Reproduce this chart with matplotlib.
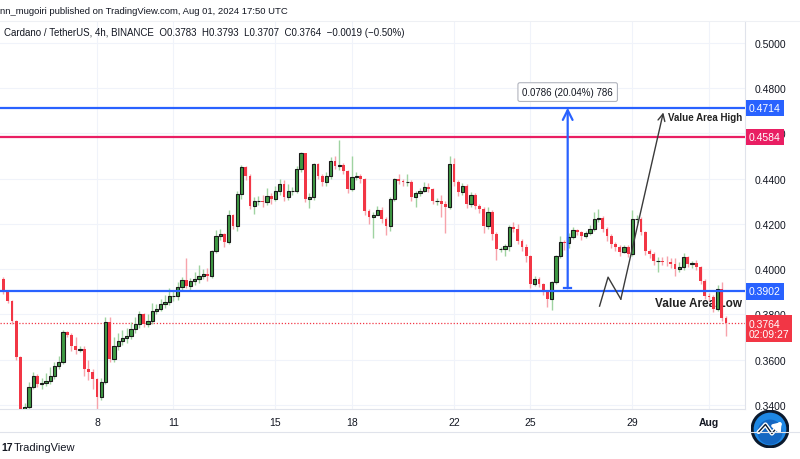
import matplotlib
matplotlib.use('Agg')
import matplotlib.pyplot as plt
import matplotlib.transforms as mtransforms
from matplotlib.patches import Circle
import numpy as np
import pandas as pd

plt.rcParams['font.family'] = ['Liberation Sans', 'DejaVu Sans']

# 4h ADA/USDT candles
first_open = 0.3956
closes = [
    0.3898, 0.3859, 0.3770, 0.3611, 0.3382, 0.3392,
    0.3479, 0.3528, 0.3492, 0.3497, 0.3506, 0.3528, 0.3572, 0.3589, 0.3722, 0.3709,
    0.3660, 0.3645, 0.3648, 0.3559, 0.3545, 0.3514, 0.3435, 0.3501, 0.3766, 0.3603,
    0.3660, 0.3682, 0.3695, 0.3704, 0.3735, 0.3757, 0.3801, 0.3757, 0.3770, 0.3815,
    0.3823, 0.3845, 0.3854, 0.3881, 0.3882, 0.3921, 0.3951, 0.3925, 0.3947, 0.3956,
    0.3969, 0.3978, 0.3969, 0.4079, 0.4146, 0.4155, 0.4119, 0.4238, 0.4190, 0.4331,
    0.4450, 0.4411, 0.4278, 0.4300, 0.4301, 0.4296, 0.4322, 0.4309, 0.4344, 0.4375,
    0.4318, 0.4344, 0.4345, 0.4442, 0.4512, 0.4309, 0.4318, 0.4464, 0.4411, 0.4384,
    0.4411, 0.4477, 0.4455, 0.4459, 0.4433, 0.4353, 0.4406, 0.4411, 0.4397, 0.4256,
    0.4230, 0.4240, 0.4262, 0.4221, 0.4190, 0.4309, 0.4397, 0.4389, 0.4384, 0.4385,
    0.4318, 0.4336, 0.4344, 0.4362, 0.4353, 0.4300, 0.4301, 0.4287, 0.4274, 0.4464,
    0.4384, 0.4340, 0.4366, 0.4287, 0.4327, 0.4278, 0.4265, 0.4190, 0.4252, 0.4155,
    0.4088, 0.4089, 0.4102, 0.4185, 0.4177, 0.4124, 0.4097, 0.4057, 0.3934, 0.3956,
    0.3934, 0.3898, 0.3868, 0.3943, 0.4057, 0.4119, 0.4115, 0.4141, 0.4172, 0.4163,
    0.4146, 0.4159, 0.4177, 0.4221, 0.4225, 0.4177, 0.4146, 0.4110, 0.4097, 0.4075,
    0.4097, 0.4066, 0.4221, 0.4222, 0.4163, 0.4079, 0.4066, 0.4035, 0.4036, 0.4034,
    0.4031, 0.4022, 0.4000, 0.4009, 0.4053, 0.4022, 0.4026, 0.4009, 0.3947, 0.3881,
    0.3876, 0.3823, 0.3912, 0.3783, 0.3764]
highs = [
    0.3965, 0.3905, 0.3866, 0.3775, 0.3615, 0.3410,
    0.3500, 0.3545, 0.3535, 0.3520, 0.3540, 0.3570, 0.3590, 0.3615, 0.3730, 0.3728,
    0.3718, 0.3700, 0.3660, 0.3660, 0.3600, 0.3560, 0.3520, 0.3520, 0.3790, 0.3790,
    0.3700, 0.3720, 0.3730, 0.3740, 0.3765, 0.3790, 0.3815, 0.3805, 0.3800, 0.3850,
    0.3845, 0.3870, 0.3885, 0.3915, 0.3905, 0.3945, 0.3965, 0.4050, 0.3960, 0.3990,
    0.4020, 0.4000, 0.4005, 0.4085, 0.4175, 0.4180, 0.4160, 0.4260, 0.4245, 0.4345,
    0.4462, 0.4458, 0.4420, 0.4320, 0.4325, 0.4330, 0.4360, 0.4335, 0.4370, 0.4400,
    0.4395, 0.4375, 0.4365, 0.4455, 0.4520, 0.4515, 0.4335, 0.4470, 0.4470, 0.4420,
    0.4430, 0.4495, 0.4500, 0.4570, 0.4470, 0.4440, 0.4500, 0.4430, 0.4420, 0.4405,
    0.4265, 0.4255, 0.4280, 0.4275, 0.4230, 0.4320, 0.4405, 0.4420, 0.4400, 0.4420,
    0.4395, 0.4345, 0.4360, 0.4385, 0.4380, 0.4360, 0.4315, 0.4330, 0.4300, 0.4500,
    0.4490, 0.4395, 0.4380, 0.4375, 0.4340, 0.4335, 0.4290, 0.4275, 0.4275, 0.4260,
    0.4165, 0.4100, 0.4110, 0.4195, 0.4210, 0.4200, 0.4135, 0.4110, 0.4065, 0.3970,
    0.3965, 0.3940, 0.3905, 0.3950, 0.4065, 0.4145, 0.4130, 0.4160, 0.4185, 0.4180,
    0.4170, 0.4170, 0.4195, 0.4255, 0.4265, 0.4235, 0.4185, 0.4155, 0.4120, 0.4105,
    0.4105, 0.4105, 0.4260, 0.4240, 0.4230, 0.4170, 0.4090, 0.4075, 0.4055, 0.4055,
    0.4060, 0.4050, 0.4050, 0.4030, 0.4070, 0.4060, 0.4035, 0.4040, 0.4015, 0.3955,
    0.3895, 0.3885, 0.3930, 0.3945, 0.3793]
lows = [
    0.3890, 0.3850, 0.3760, 0.3600, 0.3378, 0.3375,
    0.3375, 0.3470, 0.3480, 0.3470, 0.3485, 0.3495, 0.3515, 0.3560, 0.3580, 0.3700,
    0.3640, 0.3625, 0.3635, 0.3530, 0.3510, 0.3470, 0.3380, 0.3420, 0.3495, 0.3590,
    0.3590, 0.3645, 0.3665, 0.3675, 0.3690, 0.3720, 0.3740, 0.3745, 0.3745, 0.3760,
    0.3800, 0.3815, 0.3830, 0.3840, 0.3860, 0.3865, 0.3910, 0.3915, 0.3905, 0.3930,
    0.3940, 0.3955, 0.3950, 0.3960, 0.4070, 0.4130, 0.4100, 0.4110, 0.4180, 0.4170,
    0.4310, 0.4395, 0.4265, 0.4245, 0.4285, 0.4275, 0.4285, 0.4290, 0.4300, 0.4330,
    0.4300, 0.4305, 0.4330, 0.4335, 0.4430, 0.4295, 0.4270, 0.4305, 0.4400, 0.4370,
    0.4370, 0.4400, 0.4445, 0.4440, 0.4420, 0.4335, 0.4345, 0.4395, 0.4380, 0.4240,
    0.4200, 0.4140, 0.4240, 0.4205, 0.4150, 0.4170, 0.4300, 0.4375, 0.4370, 0.4370,
    0.4300, 0.4275, 0.4325, 0.4340, 0.4340, 0.4290, 0.4285, 0.4230, 0.4160, 0.4265,
    0.4370, 0.4325, 0.4330, 0.4270, 0.4275, 0.4265, 0.4250, 0.4160, 0.4180, 0.4130,
    0.4040, 0.4075, 0.4060, 0.4080, 0.4165, 0.4110, 0.4080, 0.4030, 0.3915, 0.3925,
    0.3920, 0.3885, 0.3835, 0.3820, 0.3935, 0.4050, 0.4085, 0.4095, 0.4135, 0.4150,
    0.4130, 0.4140, 0.4150, 0.4170, 0.4210, 0.4165, 0.4125, 0.4095, 0.4080, 0.4060,
    0.4070, 0.4055, 0.4060, 0.4205, 0.4150, 0.4065, 0.4050, 0.4020, 0.3990, 0.4020,
    0.4015, 0.4005, 0.3970, 0.3990, 0.3995, 0.4010, 0.4005, 0.3995, 0.3935, 0.3870,
    0.3860, 0.3810, 0.3815, 0.3770, 0.3707]

start_time = '2024-07-04 08:00'
price_ticks = [0.34, 0.36, 0.38, 0.40, 0.42, 0.44, 0.46, 0.48, 0.50]
date_ticks = ['2024-07-08', '2024-07-11', '2024-07-15', '2024-07-18',
              '2024-07-22', '2024-07-25', '2024-07-29', '2024-08-01']
date_labels = ['8', '11', '15', '18', '22', '25', '29', 'Aug']

va_high = 0.4714
va_low = 0.3902
red_level = 0.4584
last_price = 0.3764
countdown = '02:09:27'

measure_time = '2024-07-26 11:00'
measure_from = 0.3916
measure_text = '0.0786 (20.04%) 786'
zigzag_times = ['2024-07-27 17:00', '2024-07-28 01:00', '2024-07-28 13:00', '2024-07-30 05:00']
zigzag_prices = [0.3837, 0.3965, 0.3868, 0.4693]

BLUE = '#2962ff'
PINK = '#e91e63'
RED = '#f23645'
GREEN = '#3f9b44'
TXT = '#131722'

origin = pd.Timestamp('2024-07-04 00:00')


def to_bar(ts):
    return (pd.Timestamp(ts) - origin) / pd.Timedelta(hours=4)


times = pd.date_range(start_time, periods=len(closes), freq='4h')
x = np.array([to_bar(t) for t in times])
c = np.array(closes)
o = np.r_[first_open, c[:-1]]
h = np.array(highs)
l = np.array(lows)
up = c >= o

fig = plt.figure(figsize=(8, 4.6), dpi=100)
ax = fig.add_axes([0, 50 / 460, 745 / 800, 388 / 460])

# wicks then bodies
ax.vlines(x[up], l[up], h[up], color='#9fd3a1', lw=1, zorder=2)
ax.vlines(x[~up], l[~up], h[~up], color='#f7a3ab', lw=1, zorder=2)
ax.bar(x[up], c[up] - o[up], bottom=o[up], width=0.75, color=GREEN,
       edgecolor='#1a1a1a', linewidth=0.8, zorder=3)
ax.bar(x[~up], c[~up] - o[~up], bottom=o[~up], width=0.62, color=RED,
       linewidth=0, zorder=3)

ax.set_xlim(1.18, 176.47)
ax.set_ylim(0.33823, 0.50972)

# levels
ax.axhline(va_high, color=BLUE, lw=1.6, zorder=4)
ax.axhline(va_low, color=BLUE, lw=1.6, zorder=4)
ax.axhline(red_level, color=PINK, lw=1.6, zorder=4)
ax.axhline(last_price, color=RED, lw=0.9, ls=(0, (1, 1.5)), zorder=1)

# price range measurement
mx = to_bar(measure_time)
ax.annotate('', xy=(mx, va_high), xytext=(mx, measure_from),
            arrowprops=dict(arrowstyle='->,head_length=0.7,head_width=0.35',
                            color=BLUE, lw=1.6, shrinkA=0, shrinkB=0), zorder=5)
ax.plot([mx - 0.75, mx + 0.75], [measure_from, measure_from], color=BLUE, lw=1.6, zorder=5)
ax.text(mx, 0.4783, measure_text, ha='center', va='center', fontsize=7, color=TXT, zorder=6,
        bbox=dict(boxstyle='round,pad=0.45,rounding_size=0.2', fc='white', ec='#b2b5be', lw=0.8))

# hand drawn zigzag
zx = [to_bar(t) for t in zigzag_times]
ax.plot(zx[:3], zigzag_prices[:3], color='#3a3a3a', lw=1, zorder=5)
ax.annotate('', xy=(zx[3], zigzag_prices[3]), xytext=(zx[2], zigzag_prices[2]),
            arrowprops=dict(arrowstyle='->,head_length=0.5,head_width=0.25',
                            color='#3a3a3a', lw=1, shrinkA=0, shrinkB=0), zorder=5)

blend = mtransforms.blended_transform_factory(ax.transAxes, ax.transData)
ax.text(0.996, 0.4673, 'Value Area High', transform=blend, ha='right', va='center',
        fontsize=7, fontweight='bold', color='#222222', zorder=6)
ax.text(0.996, 0.3852, 'Value Area Low', transform=blend, ha='right', va='center',
        fontsize=8.5, fontweight='bold', color='#222222', zorder=2.5)

# axes look
ax.yaxis.tick_right()
ax.set_yticks(price_ticks)
ax.set_yticklabels([f'{p:.4f}' for p in price_ticks])
ax.set_xticks([to_bar(d) for d in date_ticks])
ax.set_xticklabels(date_labels)
ax.get_xticklabels()[-1].set_fontweight('bold')
ax.tick_params(axis='y', length=0, pad=7, labelsize=7.5, labelcolor=TXT)
ax.tick_params(axis='x', length=0, pad=6, labelsize=7.5, labelcolor=TXT)
ax.grid(True, color='#f0f3fa', lw=0.8, zorder=0)
ax.set_axisbelow(True)
for side in ['left', 'top']:
    ax.spines[side].set_visible(False)
for side in ['right', 'bottom']:
    ax.spines[side].set_color('#e0e3eb')

# price tags on the scale
tag = dict(transform=blend, ha='left', va='center', fontsize=7.5, color='white', zorder=7,
           clip_on=False)
ax.text(1.005, va_high, f'{va_high:.4f}', bbox=dict(boxstyle='square,pad=0.3', fc=BLUE, ec='none'), **tag)
ax.text(1.005, red_level, f'{red_level:.4f}', bbox=dict(boxstyle='square,pad=0.3', fc=PINK, ec='none'), **tag)
ax.text(1.005, va_low, f'{va_low:.4f}', bbox=dict(boxstyle='square,pad=0.3', fc=BLUE, ec='none'), **tag)
ax.text(1.005, last_price - 0.0028, f'{last_price:.4f}\n{countdown}', linespacing=1.1,
        bbox=dict(boxstyle='square,pad=0.3', fc=RED, ec='none'), **tag)

# header
fig.text(0.0, 1 - 12 / 460, 'nn_mugoiri published on TradingView.com, Aug 01, 2024 17:50 UTC',
         fontsize=6.8, color=TXT, va='center')
fig.text(4 / 800, 1 - 33 / 460,
         'Cardano / TetherUS, 4h, BINANCE  O0.3783  H0.3793  L0.3707  C0.3764  \u22120.0019 (\u22120.50%)',
         fontsize=7, color=TXT, va='center')
fig.add_artist(plt.Line2D([0, 1], [1 - 22 / 460, 1 - 22 / 460], color='#eef0f4', lw=0.8))

# footer
fig.add_artist(plt.Line2D([0, 1], [1 - 433 / 460, 1 - 433 / 460], color='#e0e3eb', lw=0.8))
fig.text(1 / 800, 1 - 448 / 460, '17', fontsize=7.5, fontweight='bold', color=TXT, va='center')
fig.text(14 / 800, 1 - 448 / 460, 'TradingView', fontsize=8, color=TXT, va='center')

# round badge, bottom right
lax = fig.add_axes([751 / 800, 11 / 460, 38 / 800, 38 / 460])
lax.set_xlim(0, 1)
lax.set_ylim(0, 1)
lax.set_aspect('equal')
lax.axis('off')
lax.add_patch(Circle((0.5, 0.5), 0.47, fc='#1e88e5', ec='#0b1a2e', lw=2.2))
lax.add_patch(Circle((0.5, 0.42), 0.33, fc='#0d47a1', ec='none', alpha=0.5))
lax.plot([0.2, 0.38, 0.55, 0.75], [0.42, 0.62, 0.38, 0.62], color='white', lw=3,
         solid_capstyle='round', solid_joinstyle='round')
lax.plot([0.2, 0.38, 0.55, 0.75], [0.42, 0.62, 0.38, 0.62], color='#0b1a2e', lw=1,
         solid_joinstyle='round')
lax.annotate('', xy=(0.85, 0.74), xytext=(0.7, 0.56),
             arrowprops=dict(arrowstyle='-|>,head_length=0.4,head_width=0.3', color='white', lw=2.5))

fig.savefig('out.png', dpi=100, facecolor='white')
